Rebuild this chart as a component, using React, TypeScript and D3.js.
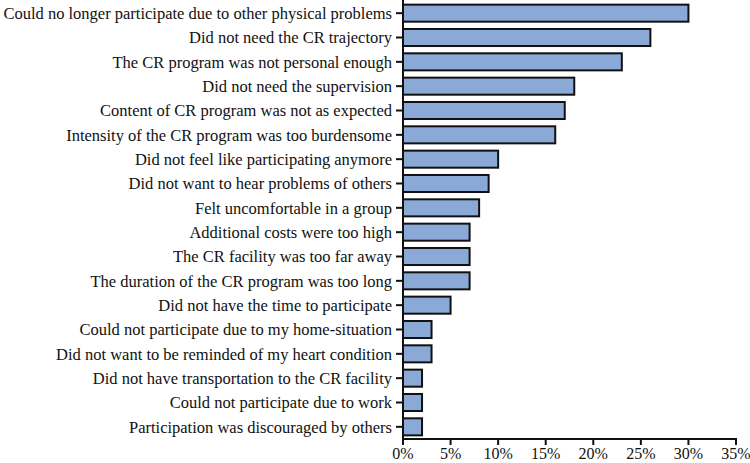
import React from "react";
import * as d3 from "d3";

const categories = [
  "Could no longer participate due to other physical problems",
  "Did not need the CR trajectory",
  "The CR program was not personal enough",
  "Did not need the supervision",
  "Content of CR program was not as expected",
  "Intensity of the CR program was too burdensome",
  "Did not feel like participating anymore",
  "Did not want to hear problems of others",
  "Felt uncomfortable in a group",
  "Additional costs were too high",
  "The CR facility was too far away",
  "The duration of the CR program was too long",
  "Did not have the time to participate",
  "Could not participate due to my home-situation",
  "Did not want to be reminded of my heart condition",
  "Did not have transportation to the CR facility",
  "Could not participate due to work",
  "Participation was discouraged by others",
];
const values = [30, 26, 23, 18, 17, 16, 10, 9, 8, 7, 7, 7, 5, 3, 3, 2, 2, 2];
const xTicks = [0, 5, 10, 15, 20, 25, 30, 35];

const W = 750;
const H = 463;
const left = 403;
const right = 736;
const top = 1;
const bottom = 439;
const font = "'Liberation Serif', 'Times New Roman', serif";

export default function App() {
  const x = d3.scaleLinear().domain([0, 35]).range([left, right]);
  const y = d3.scaleBand<string>().domain(categories).range([top, bottom]).paddingInner(0.3).paddingOuter(0.15);
  return (
    <svg width={W} height={H} style={{ position: "absolute", left: 0, top: 0, background: "#fff" }}>
      {categories.map((c, i) => (
        <g key={c}>
          <rect
            x={x(0)}
            y={y(c)!}
            width={x(values[i]) - x(0)}
            height={y.bandwidth()}
            fill="#8BA9D6"
            stroke="#111"
            strokeWidth={2}
          />
          <line x1={left - 7} x2={left} y1={y(c)! + y.bandwidth() / 2} y2={y(c)! + y.bandwidth() / 2} stroke="#111" strokeWidth={2} />
          <text
            x={left - 11}
            y={y(c)! + y.bandwidth() / 2}
            dy="0.35em"
            textAnchor="end"
            fontFamily={font}
            fontSize={16.5}
            fill="#111"
          >
            {c}
          </text>
        </g>
      ))}
      <line x1={left} x2={left} y1={0} y2={bottom + 1} stroke="#111" strokeWidth={2} />
      <line x1={left - 1} x2={right + 1} y1={bottom} y2={bottom} stroke="#111" strokeWidth={2} />
      {xTicks.map((t) => (
        <g key={t}>
          <line x1={x(t)} x2={x(t)} y1={bottom} y2={bottom + 6} stroke="#111" strokeWidth={2} />
          <text x={x(t)} y={459} textAnchor="middle" fontFamily={font} fontSize={16} fill="#111">
            {t}%
          </text>
        </g>
      ))}
    </svg>
  );
}
